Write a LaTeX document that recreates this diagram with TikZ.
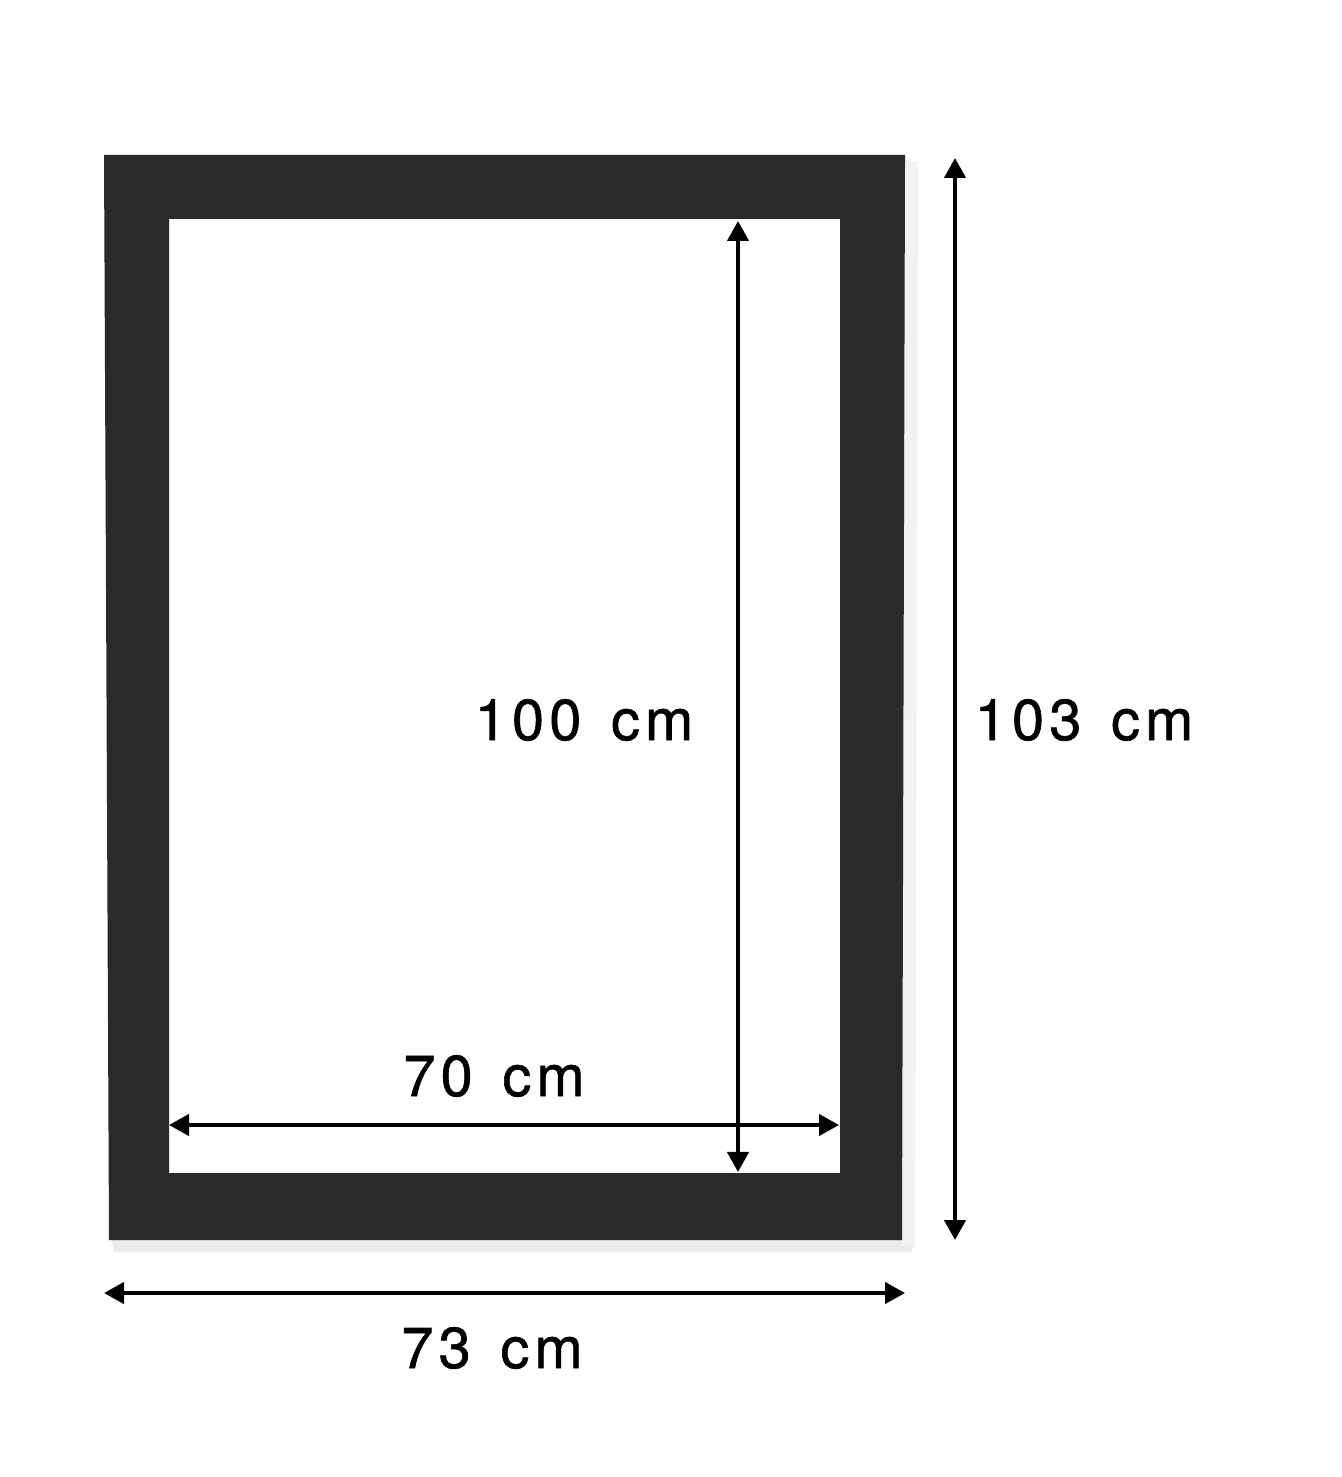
\documentclass[tikz,border=0pt]{standalone}
\usepackage{fontspec}
\setmainfont{TeX Gyre Heros}[LetterSpace=9, WordSpace=1.4, FakeBold=1]
\usepackage{tikz}
\usetikzlibrary{arrows.meta}

\definecolor{framegrey}{HTML}{2A2A2A}

\tikzset{
	dim/.style={line width=1.2pt, {Triangle[length=2mm,width=2.1mm]}-{Triangle[length=2mm,width=2.1mm]}},
	dimlabel/.style={font=\fontsize{16.4pt}{18pt}\selectfont, inner sep=0pt}
}

\begin{document}
	\begin{tikzpicture}[x=0.01cm, y=-0.01cm]
		\useasboundingbox[fill=white] (0,0) rectangle (1341,1477);
	
		% frame with soft shadow
		\fill[black!8] (112,1240) -- (910,1240) -- (912,1252) -- (114,1252) -- cycle;
		\fill[black!5] (905,160) -- (918,162) -- (915,1248) -- (902,1246) -- cycle;
		\fill[framegrey, even odd rule] (104,155) -- (905,155) -- (902,1240) -- (109,1240) -- cycle
			(169,219) rectangle (840,1173);
	
		\coordinate (innertop) at (738,221);
		\coordinate (innerbot) at (738,1172);
		\coordinate (innerleft) at (169,1125);
		\coordinate (innerright) at (839,1125);
		\coordinate (outertop) at (955,158);
		\coordinate (outerbot) at (955,1240);
		\coordinate (outerleft) at (104,1293);
		\coordinate (outerright) at (905,1293);
	
		\begin{scope}[dim]
			\draw (innertop) -- (innerbot);
			\draw (innerleft) -- (innerright);
			\draw (outertop) -- (outerbot);
			\draw (outerleft) -- (outerright);
		\end{scope}
	
		\node[dimlabel] (h100) at (584,720) {100 cm};
		\node[dimlabel] (h103) at (1084,720) {103 cm};
		\node[dimlabel] (w70) at (494,1076) {70 cm};
		\node[dimlabel] (w73) at (492,1348) {73 cm};
	\end{tikzpicture}
\end{document}
